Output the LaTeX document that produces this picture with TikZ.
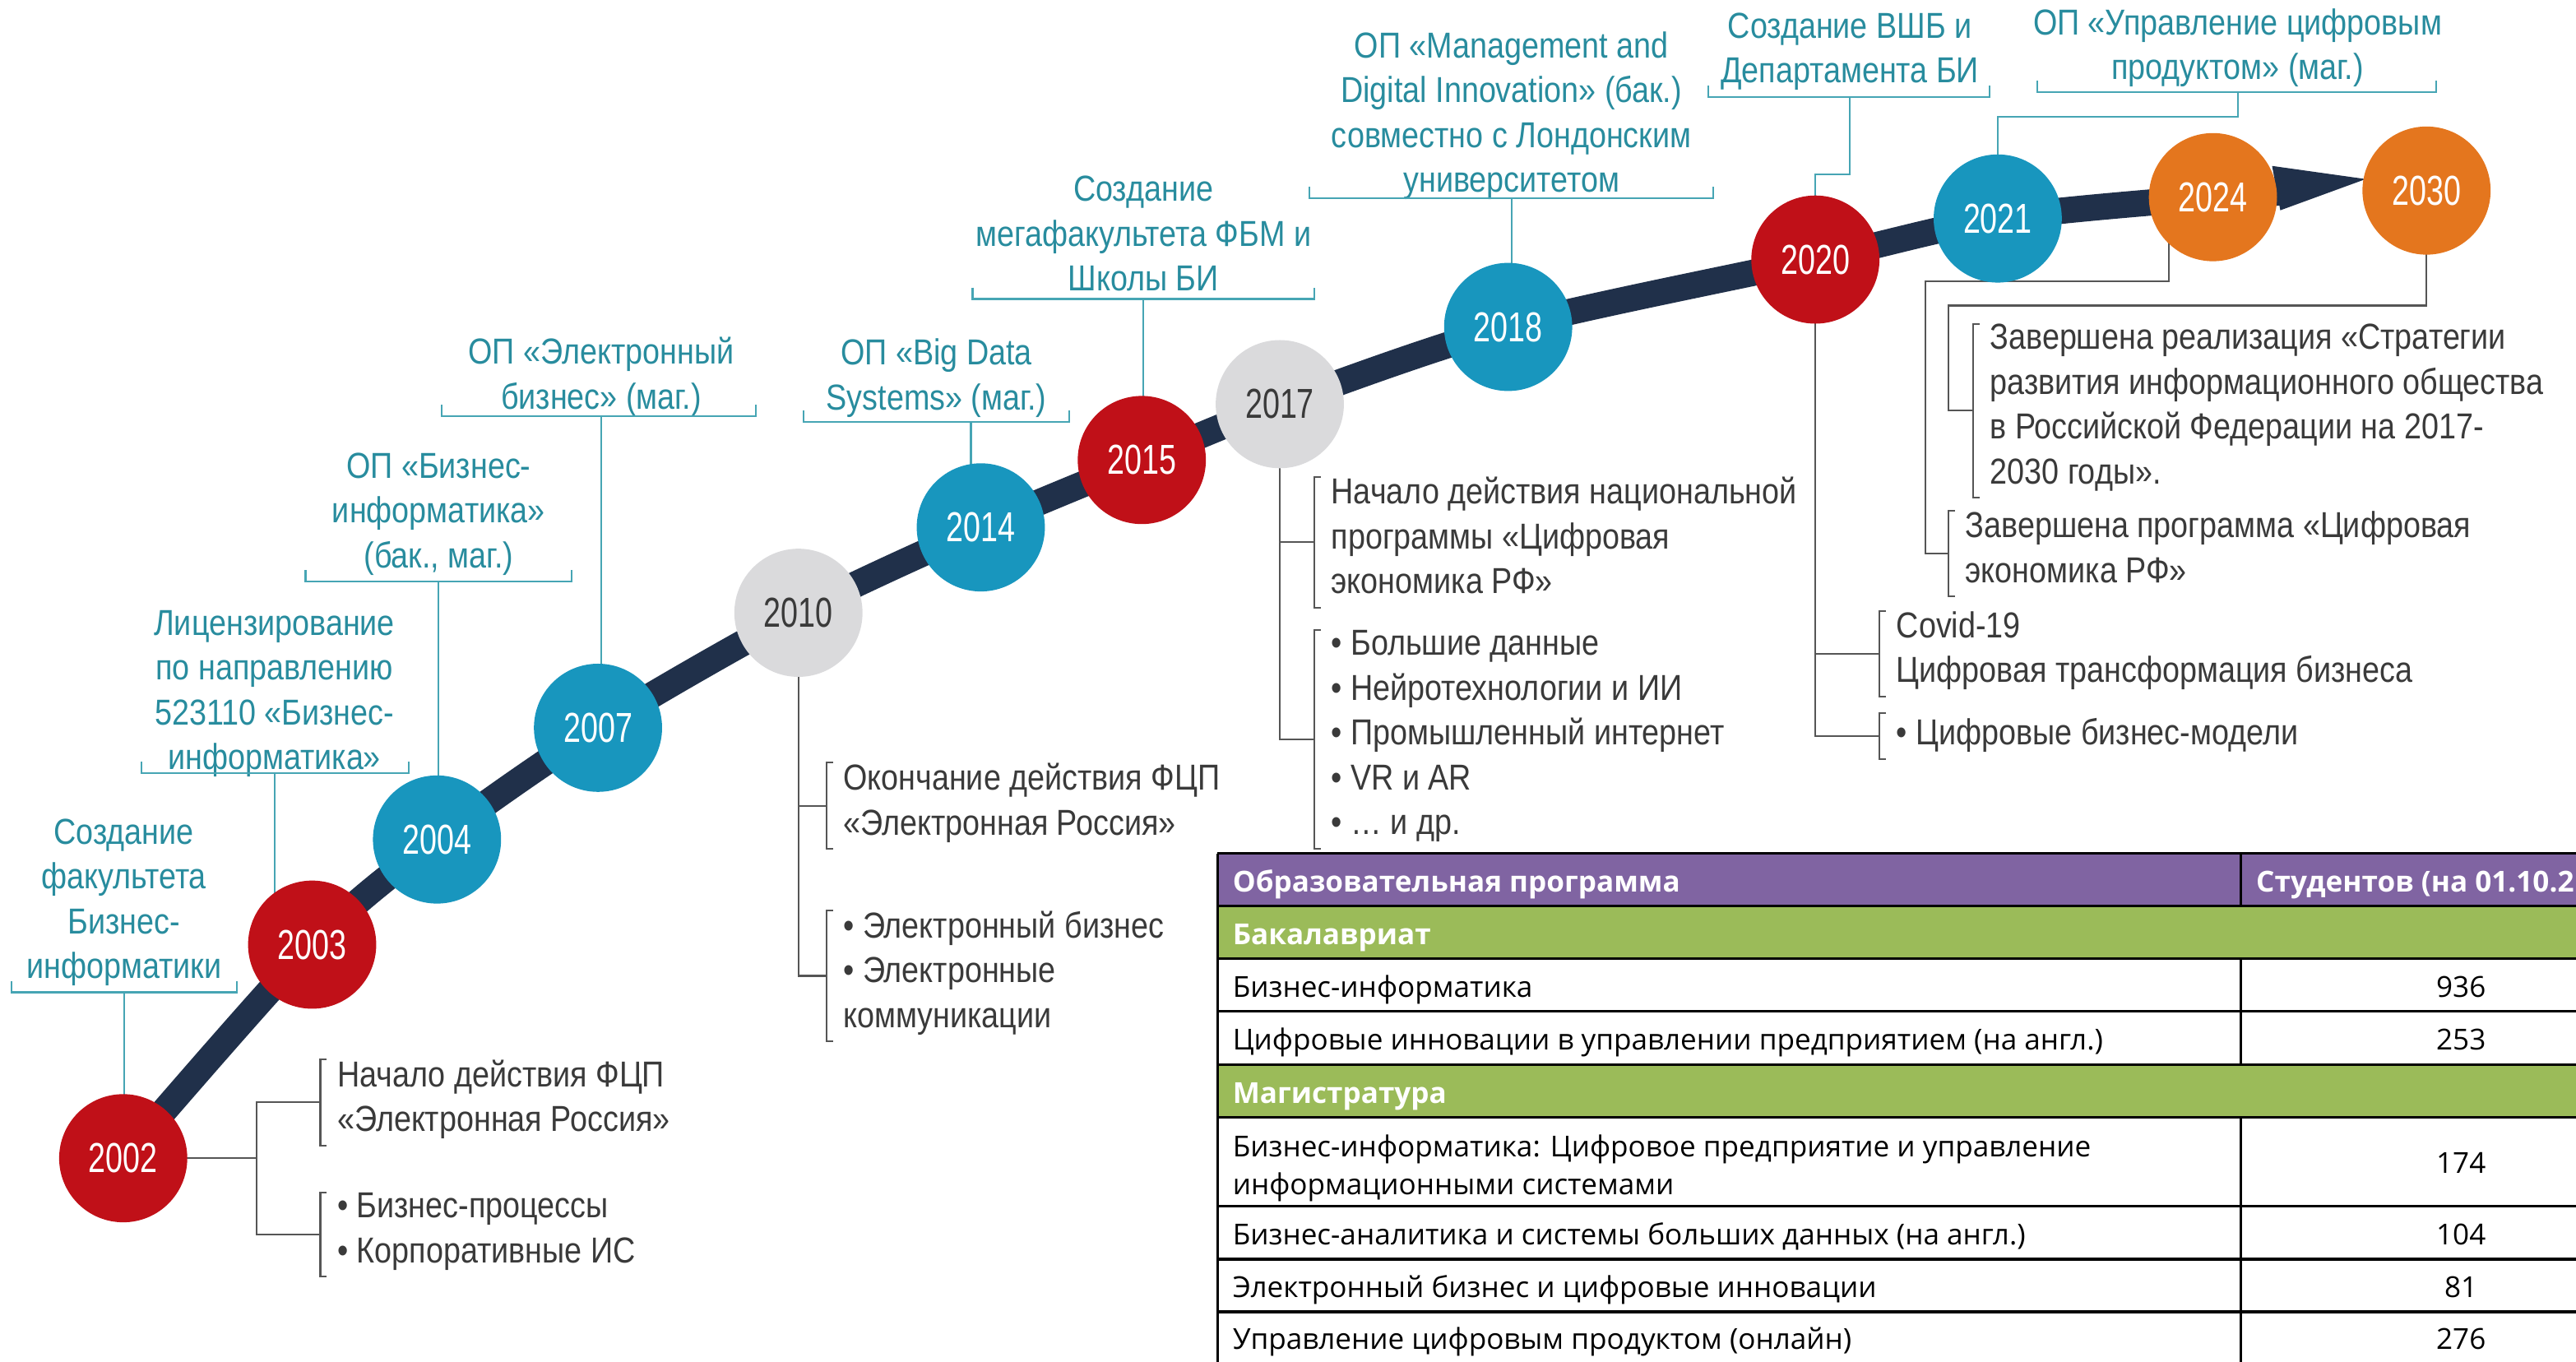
\documentclass[tikz,border=0pt]{standalone}
\usepackage{fontspec}
\setmainfont{Liberation Sans}[FakeStretch=0.86]
\newfontfamily\yearfont{Liberation Sans}[FakeStretch=0.74]
\newfontfamily\tablefont{Open Sans}

\definecolor{bandnavy}{RGB}{32,48,74}
\definecolor{yred}{RGB}{192,16,24}
\definecolor{yblue}{RGB}{24,150,190}
\definecolor{ygray}{RGB}{218,218,220}
\definecolor{yorange}{RGB}{228,118,30}
\definecolor{tealtext}{RGB}{40,140,158}
\definecolor{tealline}{RGB}{70,165,180}
\definecolor{greytext}{RGB}{58,58,58}
\definecolor{greyline}{RGB}{85,85,85}
\definecolor{headpurple}{RGB}{128,100,162}
\definecolor{rowgreen}{RGB}{155,187,89}

\tikzset{
  year/.style={circle,minimum size=15.6mm,inner sep=0pt,text=white,font=\yearfont\fontsize{14.5}{16}\selectfont},
  toplabel/.style={align=center,anchor=south,inner sep=0pt,text=tealtext,font=\fontsize{12.5}{15.5}\selectfont,execute at end node=\strut},
  note/.style={align=left,anchor=west,inner xsep=2mm,inner ysep=0pt,text=greytext,font=\fontsize{12.5}{15.5}\selectfont,execute at begin node=\strut,execute at end node=\strut},
  tline/.style={draw=tealline,line width=0.6pt},
  gline/.style={draw=greyline,line width=0.6pt},
  tabline/.style={draw=black,line width=0.9pt},
  cell/.style={anchor=west,inner sep=0pt,text height=8.7pt,text depth=0.3pt,font=\tablefont\fontsize{10}{13}\selectfont},
  headcell/.style={cell,text=white,font=\tablefont\bfseries\fontsize{10}{13}\selectfont},
  numcell/.style={cell,anchor=center}
}

\begin{document}
\begin{tikzpicture}[x=0.2mm,y=-0.2mm]
\useasboundingbox (0,0) rectangle (1568,829);
\clip (0,0) rectangle (1568,829);
%
\coordinate (y2002) at (75,705);
\coordinate (y2003) at (190,575);
\coordinate (y2004) at (266,511);
\coordinate (y2007) at (364,443);
\coordinate (y2010) at (486,373);
\coordinate (y2014) at (597,321);
\coordinate (y2015) at (695,280);
\coordinate (y2017) at (779,246);
\coordinate (y2018) at (918,199);
\coordinate (y2020) at (1105,158);
\coordinate (y2021) at (1216,133);
\coordinate (y2024) at (1347,120);
\coordinate (y2030) at (1477,116);
%
\draw[bandnavy,line width=3.2mm] plot[smooth,tension=0.5] coordinates {(y2002) (y2003) (y2004) (y2007) (y2010) (y2014) (y2015) (y2017) (y2018) (y2020) (y2021) (y2024) (1390,117)};
\fill[bandnavy] (1383,101) -- (1440,109) -- (1388,128) -- cycle;
%
\node[toplabel] (l2002) at (75.5,604) {Создание\\факультета\\Бизнес-\\информатики};
\node[toplabel] (l2003) at (167,477) {Лицензирование\\по направлению\\523110 «Бизнес-\\информатика»};
\node[toplabel] (l2004) at (267,354) {ОП «Бизнес-\\информатика»\\(бак., маг.)};
\node[toplabel] (l2007) at (366,257.5) {ОП «Электронный\\бизнес» (маг.)};
\node[toplabel] (l2014) at (570,258) {ОП «Big Data\\Systems» (маг.)};
\node[toplabel] (l2015) at (696,185.5) {Создание\\мегафакультета ФБМ и\\Школы БИ};
\node[toplabel] (l2018) at (920,125.5) {ОП «Management and\\Digital Innovation» (бак.)\\совместно с Лондонским\\университетом};
\node[toplabel] (l2020) at (1126,59) {Создание ВШБ и\\Департамента БИ};
\node[toplabel] (l2021) at (1362,57) {ОП «Управление цифровым\\продуктом» (маг.)};
%
\draw[tline] (7,597) |- (144,604) -- (144,597);
\draw[tline] (86,463.5) |- (249,470.5) -- (249,463.5);
\draw[tline] (186,347) |- (348,354) -- (348,347);
\draw[tline] (269,246.5) |- (460,253.5) -- (460,246.5);
\draw[tline] (489,250) |- (651,257) -- (651,250);
\draw[tline] (592,175) |- (800,182) -- (800,175);
\draw[tline] (797,113.5) |- (1043,120.5) -- (1043,113.5);
\draw[tline] (1040,52) |- (1211,59) -- (1211,52);
\draw[tline] (1240,49) |- (1483,56) -- (1483,49);
%
\draw[tline] (l2002.south) -- (l2002.south |- y2002);
\draw[tline] ([yshift=1.3mm]l2003.south) -- (l2003.south |- y2003);
\draw[tline] (l2004.south) -- (l2004.south |- y2004);
\draw[tline] ([yshift=0.8mm]l2007.south) -- (l2007.south |- y2007);
\draw[tline] ([yshift=0.2mm]l2014.south) -| ([xshift=-1.2mm]y2014);
\draw[tline] ([yshift=0.7mm]l2015.south) -- (l2015.south |- y2015);
\draw[tline] ([yshift=1mm]l2018.south) -- (l2018.south |- y2018);
\draw[tline] (l2020.south) |- ([yshift=10.4mm]y2020) -- (y2020);
\draw[tline] ([yshift=0.2mm]l2021.south) |- ([yshift=12.4mm]y2021) -- (y2021);
%
\node[note] (b2002a) at (195,671) {Начало действия ФЦП\\«Электронная Россия»};
\node[note] (b2002b) at (195,751.5) {• Бизнес-процессы\\• Корпоративные ИС};
\node[note] (b2010a) at (503,490.5) {Окончание действия ФЦП\\«Электронная Россия»};
\node[note] (b2010b) at (503,594) {• Электронный бизнес\\• Электронные\\коммуникации};
\node[note] (b2017a) at (800,330) {Начало действия национальной\\программы «Цифровая\\экономика РФ»};
\node[note] (b2017b) at (800,450) {• Большие данные\\• Нейротехнологии и ИИ\\• Промышленный интернет\\• VR и AR\\• … и др.};
\node[note] (b2020a) at (1144,398) {Covid-19\\Цифровая трансформация бизнеса};
\node[note] (b2020b) at (1144,448) {• Цифровые бизнес-модели};
\node[note] (b2024) at (1186,337) {Завершена программа «Цифровая\\экономика РФ»};
\node[note] (b2030) at (1201,250) {Завершена реализация «Стратегии\\развития информационного общества\\в Российской Федерации на 2017-\\2030 годы».};
%
\foreach \n in {b2002a,b2002b,b2010a,b2010b,b2017a,b2017b,b2020a,b2020b,b2024,b2030}
  \draw[gline] ([xshift=0.8mm]\n.north west) -- (\n.north west) -- (\n.south west) -- ([xshift=0.8mm]\n.south west);
%
\draw[gline] (b2002a.west) -- ++(-39,0) coordinate (j2002) |- (b2002b.west);
\draw[gline] (y2002) -- (y2002 -| j2002);
\draw[gline] (y2010) |- (b2010a.west);
\draw[gline] (y2010) |- (b2010b.west);
\draw[gline] (y2017) |- (b2017a.west);
\draw[gline] (y2017) |- (b2017b.west);
\draw[gline] (y2020) |- (b2020a.west);
\draw[gline] (y2020) |- (b2020b.west);
\draw[gline] (b2024.west) -- ++(-14,0) |- ([xshift=-5.4mm,yshift=-10.2mm]y2024) -- ([xshift=-5.4mm]y2024);
\draw[gline] (b2030.west) -- ++(-15,0) |- ([yshift=-14mm]y2030) -- (y2030);
%
\node[year,fill=yred] (c2002) at (y2002) {2002};
\node[year,fill=yred] (c2003) at (y2003) {2003};
\node[year,fill=yblue] (c2004) at (y2004) {2004};
\node[year,fill=yblue] (c2007) at (y2007) {2007};
\node[year,fill=ygray,text=greytext] (c2010) at (y2010) {2010};
\node[year,fill=yblue] (c2014) at (y2014) {2014};
\node[year,fill=yred] (c2015) at (y2015) {2015};
\node[year,fill=ygray,text=greytext] (c2017) at (y2017) {2017};
\node[year,fill=yblue] (c2018) at (y2018) {2018};
\node[year,fill=yred] (c2020) at (y2020) {2020};
\node[year,fill=yblue] (c2021) at (y2021) {2021};
\node[year,fill=yorange] (c2024) at (y2024) {2024};
\node[year,fill=yorange] (c2030) at (y2030) {2030};
%
\fill[headpurple] (741,519.5) rectangle (1580,551.5);
\fill[rowgreen] (741,551.5) rectangle (1580,583.5);
\fill[rowgreen] (741,648) rectangle (1580,680);
\foreach \y in {519.5,551.5,583.5,615.5,648,680,734,766.5,798.5}
  \draw[tabline] (741,\y) -- (1580,\y);
\draw[tabline] (741,519.5) -- (741,840);
\draw[tabline] (1364,519.5) -- (1364,551.5);
\draw[tabline] (1364,583.5) -- (1364,648);
\draw[tabline] (1364,680) -- (1364,840);
%
\node[headcell] (h1) at (750,535.5) {Образовательная программа};
\node[headcell] (h2) at (1373,535.5) {Студентов (на 01.10.2};
\node[headcell] (g1) at (750,567.5) {Бакалавриат};
\node[cell] (r1) at (750,599.5) {Бизнес-информатика};
\node[numcell] (n1) at (1498,599.5) {936};
\node[cell] (r2) at (750,631.75) {Цифровые инновации в управлении предприятием (на англ.)};
\node[numcell] (n2) at (1498,631.75) {253};
\node[headcell] (g2) at (750,664) {Магистратура};
\node[cell,text height=,text depth=,align=left] (r3) at (750,711) {Бизнес-информатика: Цифровое предприятие и управление\\информационными системами};
\node[numcell] (n3) at (1498,707) {174};
\node[cell] (r4) at (750,750.25) {Бизнес-аналитика и системы больших данных (на англ.)};
\node[numcell] (n4) at (1498,750.25) {104};
\node[cell] (r5) at (750,782.5) {Электронный бизнес и цифровые инновации};
\node[numcell] (n5) at (1498,782.5) {81};
\node[cell] (r6) at (750,814) {Управление цифровым продуктом (онлайн)};
\node[numcell] (n6) at (1498,814) {276};
\end{tikzpicture}
\end{document}
